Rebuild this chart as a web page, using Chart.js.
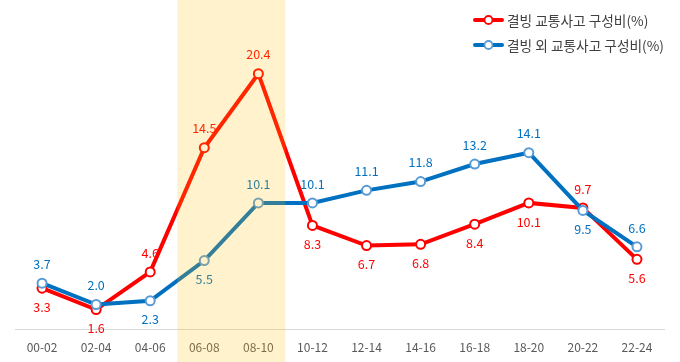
<!DOCTYPE html>
<html>
<head>
<meta charset="utf-8">
<script src="https://cdn.jsdelivr.net/npm/chart.js@4"></script>
<style>
  html, body { margin: 0; padding: 0; background: #fff; }
  #wrap { width: 680px; height: 362px; }
</style>
</head>
<body>
<div id="wrap"><canvas id="chart" width="680" height="362"></canvas></div>
<script>
const hours = ["00-02", "02-04", "04-06", "06-08", "08-10", "10-12", "12-14", "14-16", "16-18", "18-20", "20-22", "22-24"];
const icyShare = [3.3, 1.6, 4.6, 14.5, 20.4, 8.3, 6.7, 6.8, 8.4, 10.1, 9.7, 5.6];
const otherShare = [3.7, 2.0, 2.3, 5.5, 10.1, 10.1, 11.1, 11.8, 13.2, 14.1, 9.5, 6.6];
const icyLabel = "결빙 교통사고 구성비(%)";
const otherLabel = "결빙 외 교통사고 구성비(%)";
const highlight = ["06-08", "08-10"];

// where each value label sits relative to its point
const icyLabelPos = ["below", "below", "above", "above", "above", "below", "below", "below", "below", "below", "above", "below"];
const otherLabelPos = ["above", "above", "below", "below", "above", "above", "above", "above", "above", "above", "below", "above"];

const FONT = "'Noto Sans CJK KR', 'Noto Sans', sans-serif";

const valueLabels = {
    id: "valueLabels",
    afterDatasetsDraw(chart) {
        const ctx = chart.ctx;
        ctx.save();
        ctx.font = "12.5px " + FONT;
        ctx.textAlign = "center";
        ctx.textBaseline = "middle";
        chart.data.datasets.forEach((ds, i) => {
            const meta = chart.getDatasetMeta(i);
            meta.data.forEach((pt, j) => {
                const dy = ds.labelPos[j] === "above" ? -19 : 19;
                ctx.fillStyle = ds.borderColor;
                ctx.fillText(ds.data[j].toFixed(1), pt.x, pt.y + dy);
            });
        });
        ctx.restore();
    }
};

const band = {
    id: "band",
    afterDraw(chart) {
        const x = chart.scales.x;
        const i0 = hours.indexOf(highlight[0]);
        const i1 = hours.indexOf(highlight[highlight.length - 1]);
        const half = (x.getPixelForValue(1) - x.getPixelForValue(0)) / 2;
        const left = x.getPixelForValue(i0) - half;
        const right = x.getPixelForValue(i1) + half;
        const ctx = chart.ctx;
        ctx.save();
        ctx.fillStyle = "rgba(255, 190, 0, 0.2)";
        ctx.fillRect(left, 0, right - left, chart.height);
        ctx.restore();
    }
};

const legendBox = {
    id: "legendBox",
    afterDraw(chart) {
        const ctx = chart.ctx;
        ctx.save();
        ctx.font = "13.7px " + FONT;
        ctx.textBaseline = "middle";
        chart.data.datasets.forEach((ds, i) => {
            const y = 20 + i * 25;
            ctx.strokeStyle = ds.borderColor;
            ctx.lineWidth = 4;
            ctx.lineCap = "round";
            ctx.beginPath();
            ctx.moveTo(475, y);
            ctx.lineTo(502, y);
            ctx.stroke();
            ctx.beginPath();
            ctx.arc(488.5, y, 4, 0, Math.PI * 2);
            ctx.fillStyle = "#fff";
            ctx.fill();
            ctx.lineWidth = 1.8;
            ctx.strokeStyle = ds.pointBorderColor;
            ctx.stroke();
            ctx.fillStyle = "#404040";
            ctx.fillText(ds.label, 507, y + 1);
        });
        ctx.restore();
    }
};

new Chart(document.getElementById("chart").getContext("2d"), {
    type: "line",
    data: {
        labels: hours,
        datasets: [
            {
                label: icyLabel,
                data: icyShare,
                labelPos: icyLabelPos,
                borderColor: "#FF0000",
                pointBorderColor: "#FF0000",
                pointBackgroundColor: "#FFFFFF",
                borderWidth: 4,
                pointRadius: 4.5,
                pointBorderWidth: 2,
                order: 1
            },
            {
                label: otherLabel,
                data: otherShare,
                labelPos: otherLabelPos,
                borderColor: "#0070C0",
                pointBorderColor: "#5B9BD5",
                pointBackgroundColor: "#FFFFFF",
                borderWidth: 4,
                pointRadius: 4.5,
                pointBorderWidth: 2,
                order: 0
            }
        ]
    },
    options: {
        responsive: false,
        animation: false,
        layout: { padding: { left: 15, right: 16, top: 16, bottom: -4 } },
        plugins: {
            legend: { display: false },
            tooltip: { enabled: false }
        },
        scales: {
            x: {
                offset: true,
                grid: { display: false, drawTicks: false },
                border: { color: "#D9D9D9", width: 1 },
                ticks: { color: "#595959", font: { family: FONT, size: 12 }, padding: 11, maxRotation: 0 }
            },
            y: {
                display: false,
                min: 0,
                max: 25
            }
        }
    },
    plugins: [valueLabels, band, legendBox]
});
</script>
</body>
</html>
